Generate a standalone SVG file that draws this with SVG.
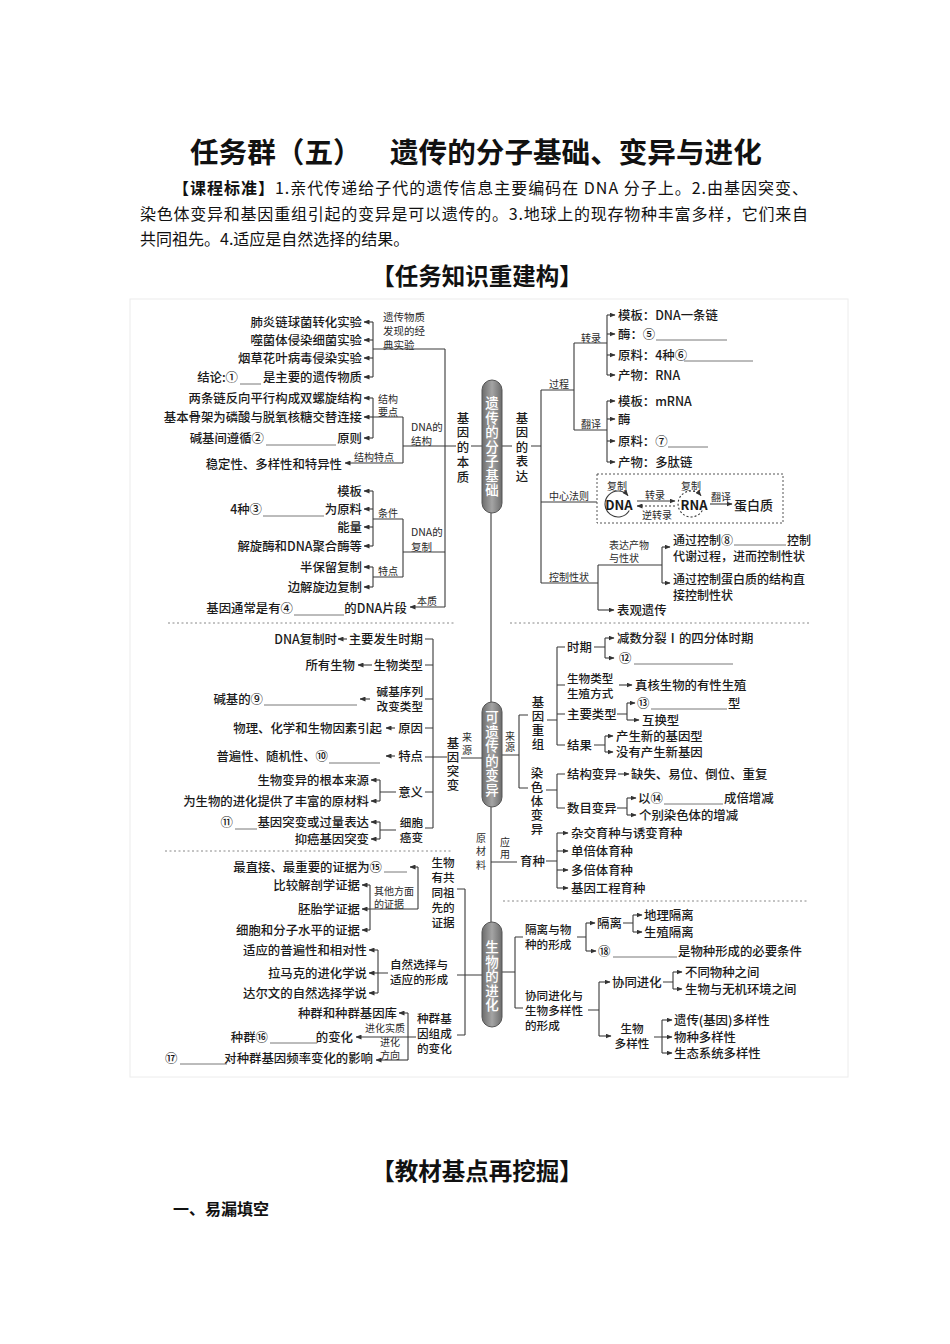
<svg xmlns="http://www.w3.org/2000/svg" width="950" height="1344" viewBox="0 0 950 1344">
<style>
text{font-family:"Noto Sans CJK SC","Noto Sans CJK JP",sans-serif;dominant-baseline:central}
.t{font-size:12.4px;fill:#1a1a1a;font-weight:500}
.k{font-size:11.6px}
.e{text-anchor:end}
.m{text-anchor:middle}
.s{font-size:10px;fill:#2a2a2a}
.vt{writing-mode:vertical-rl;text-orientation:upright}
.v{font-size:13.5px;fill:#fff;font-weight:500}
.ln{stroke:#3a3a3a;stroke-width:1.1;fill:none}
.ar{stroke:#3a3a3a;stroke-width:1.1;fill:none;marker-end:url(#ah)}
.u{stroke:#555;stroke-width:0.8;fill:none}
.dash{stroke:#888;stroke-width:1;stroke-dasharray:2 2.5;fill:none}
.pill{fill:url(#pg);stroke:#555;stroke-width:1}
.hd{font-size:16px;fill:#111}
</style>
<defs>
<marker id="ah" markerWidth="6" markerHeight="5" refX="5.5" refY="2.5" orient="auto" markerUnits="userSpaceOnUse"><path d="M0,0 L6,2.5 L0,5 z" fill="#333"/></marker>
<linearGradient id="pg" x1="0" y1="0" x2="1" y2="0"><stop offset="0" stop-color="#6c6c6c"/><stop offset="0.5" stop-color="#a4a4a4"/><stop offset="1" stop-color="#6c6c6c"/></linearGradient>
</defs>
<rect width="950" height="1344" fill="#fff"/>

<g id="header">
<text x="190" y="150" style="font-size:28.6px;font-weight:bold;fill:#111">任务群（五）</text>
<text x="390" y="150" style="font-size:28.6px;font-weight:bold;fill:#111">遗传的分子基础、变异与进化</text>
<text class="hd" x="173" y="187" textLength="635" lengthAdjust="spacing"><tspan font-weight="bold">【课程标准】</tspan>1.亲代传递给子代的遗传信息主要编码在 DNA 分子上。2.由基因突变、</text>
<text class="hd" x="140" y="213" textLength="668" lengthAdjust="spacing">染色体变异和基因重组引起的变异是可以遗传的。3.地球上的现存物种丰富多样，它们来自</text>
<text class="hd" x="140" y="238">共同祖先。4.适应是自然选择的结果。</text>
<text x="477" y="275" class="m" style="font-size:23.5px;font-weight:bold;fill:#111">【任务知识重建构】</text>
<text x="477" y="1170" class="m" style="font-size:23.5px;font-weight:bold;fill:#111">【教材基点再挖掘】</text>
<text x="173" y="1208" style="font-size:16px;font-weight:bold;fill:#111">一、易漏填空</text>
</g>

<rect x="130" y="299" width="718" height="778" fill="none" stroke="#ececec" stroke-width="1"/>

<g id="separators">
<path class="dash" d="M168 623 H455 M510 623 H810 M165 851 H453 M503 901 H808"/>
</g>

<g id="connectors">
<path class="ln" d="M491 513 V702 M491 807 V922"/>
<path class="ln" d="M445 349 V607 M373 349 H445 M445 446 H456 M471 446 H482 M373 322 V377 M403 446 H445 M403 417 V463 M373 417 H403 M373 398 V438 M403 552 H445 M403 519 V577 M373 519 H403 M373 491 V546 M373 577 H403 M373 567 V587"/>
<path class="ar" d="M373 322 H364"/><path class="ar" d="M373 340 H364"/><path class="ar" d="M373 358 H364"/><path class="ar" d="M373 377 H364"/>
<path class="ar" d="M373 398 H364"/><path class="ar" d="M373 417 H364"/><path class="ar" d="M373 438 H364"/><path class="ar" d="M403 463 H345"/>
<path class="ar" d="M373 491 H364"/><path class="ar" d="M373 509 H364"/><path class="ar" d="M373 527 H364"/><path class="ar" d="M373 546 H364"/>
<path class="ar" d="M373 567 H364"/><path class="ar" d="M373 587 H364"/><path class="ar" d="M445 607 H410"/>
<path class="ln" d="M502 446 H512 M531 446 H541 M541 390 V583 M541 390 H574 M574 343 V430 M574 343 H607 M607 315 V375 M574 430 H607 M607 401 V462 M541 502 H597 M541 583 H598 M598 565 V610 M598 565 H662 M662 547 V583"/>
<path class="ar" d="M607 315 H615"/><path class="ar" d="M607 334 H615"/><path class="ar" d="M607 355 H615"/><path class="ar" d="M607 375 H615"/>
<path class="ar" d="M607 401 H615"/><path class="ar" d="M607 419 H615"/><path class="ar" d="M607 441 H615"/><path class="ar" d="M607 462 H615"/>
<path class="ar" d="M662 547 H670"/><path class="ar" d="M662 583 H670"/><path class="ar" d="M598 610 H614"/>
<rect x="597" y="474" width="186" height="49" fill="none" stroke="#555" stroke-width="1" stroke-dasharray="2 2"/>
<path class="ar" d="M629.3 510.5 A13 13 0 1 1 628 495.6"/>
<path class="ar" stroke-dasharray="2 2" d="M702.3 510.5 A13 13 0 1 1 701 495.6"/>
<path class="ar" d="M637 501 H675"/>
<path class="ar" stroke-dasharray="2 2" d="M675 506 H637"/>
<path class="ar" d="M710 504 H732"/>
<path class="ln" d="M433 639 V828 M425 639 H433 M425 665 H433 M425 699 H433 M425 728 H433 M425 792 H433 M425 828 H433 M425 757 H447 M461 758 H482 M380 792 H396 M380 780 V801 M380 830 H396 M380 822 V839"/>
<path class="ar" d="M347 639 H338"/><path class="ar" d="M372 665 H358"/><path class="ar" d="M370 699 H360"/><path class="ar" d="M395 728 H386"/><path class="ar" d="M395 756 H386"/>
<path class="ar" d="M380 780 H371"/><path class="ar" d="M380 801 H371"/><path class="ar" d="M380 822 H371"/><path class="ar" d="M380 839 H371"/>
<path class="ln" d="M502 755 H519 M519 715 V788 M519 715 H528 M547 720 H557 M557 647 V745 M557 647 H565 M557 685 H565 M557 714 H565 M557 745 H565 M594 647 H605 M605 638 V658 M617 714 H627 M627 703 V720 M594 745 H605 M605 736 V752 M519 788 H528 M546 790 H557 M557 774 V808 M557 774 H565 M557 808 H565 M617 808 H627 M627 798 V815 M491 862 H517 M546 861 H557 M557 833 V888"/>
<path class="ar" d="M605 638 H614"/><path class="ar" d="M605 658 H614"/><path class="ar" d="M619 685 H632"/><path class="ar" d="M627 703 H635"/><path class="ar" d="M627 720 H639"/>
<path class="ar" d="M605 736 H613"/><path class="ar" d="M605 752 H613"/><path class="ar" d="M618 774 H629"/><path class="ar" d="M627 798 H636"/><path class="ar" d="M627 815 H636"/>
<path class="ar" d="M557 833 H568"/><path class="ar" d="M557 851 H568"/><path class="ar" d="M557 870 H568"/><path class="ar" d="M557 888 H568"/>
<path class="ln" d="M418 867 V909 M370 909 H418 M370 885 V930 M457 889 H465 M465 889 V1035 M457 975 H482 M457 1035 H465 M378 950 V993 M378 973 H388 M408 1013 V1060"/>
<path class="ar" d="M418 867 H410"/><path class="ar" d="M370 885 H362"/><path class="ar" d="M370 909 H362"/><path class="ar" d="M370 930 H362"/>
<path class="ar" d="M378 950 H369"/><path class="ar" d="M378 973 H369"/><path class="ar" d="M378 993 H369"/>
<path class="ar" d="M408 1013 H399"/><path class="ar" d="M416 1037 H356"/><path class="ar" d="M408 1060 H376"/>
<path class="ln" d="M502 972 H515 M515 937 V1008 M515 937 H523 M515 1008 H523 M577 937 H586 M586 923 V951 M623 923 H633 M633 915 V932 M588 1010 H599 M599 982 V1036 M663 982 H673 M673 972 V989 M654 1037 H662 M662 1020 V1053"/>
<path class="ar" d="M586 923 H595"/><path class="ar" d="M586 951 H596"/><path class="ar" d="M633 915 H642"/><path class="ar" d="M633 932 H642"/>
<path class="ar" d="M599 982 H610"/><path class="ar" d="M599 1036 H611"/><path class="ar" d="M673 972 H682"/><path class="ar" d="M673 989 H682"/>
<path class="ar" d="M662 1020 H672"/><path class="ar" d="M662 1037 H672"/><path class="ar" d="M662 1053 H672"/>
</g>

<g id="pill-molecular">
<rect class="pill" x="482" y="380" width="20" height="133" rx="10"/>
<text class="v vt" x="492" y="396.3" style="letter-spacing:1px">遗传的分子基础</text>
</g>
<g id="pill-variation">
<rect class="pill" x="482" y="702" width="20" height="105" rx="10"/>
<text class="v vt" x="492" y="710.3" style="letter-spacing:1px">可遗传的变异</text>
</g>
<g id="pill-evolution">
<rect class="pill" x="482" y="922" width="20" height="105" rx="10"/>
<text class="v vt" x="492" y="940.3" style="letter-spacing:1px">生物的进化</text>
</g>

<g id="n-gene-nature">
<text class="t vt" x="463" y="411.8" style="letter-spacing:2.3px">基因的本质</text>
</g>
<g id="n-classic-exp">
<text class="s" style="font-size:10.5px"><tspan x="383" y="316">遗传物质</tspan><tspan x="383" y="330">发现的经</tspan><tspan x="383" y="344">典实验</tspan></text>
<text class="t e" x="362" y="322">肺炎链球菌转化实验</text>
<text class="t e" x="362" y="340">噬菌体侵染细菌实验</text>
<text class="t e" x="362" y="358">烟草花叶病毒侵染实验</text>
<text class="t e" x="238" y="377">结论:①</text><path class="u" d="M240 384 H261"/><text class="t e" x="362" y="377">是主要的遗传物质</text>
</g>
<g id="n-dna-structure">
<text class="s" style="font-size:10.5px"><tspan x="411" y="426">DNA的</tspan><tspan x="411" y="440">结构</tspan></text>
<text class="s"><tspan x="378" y="398">结构</tspan><tspan x="378" y="411">要点</tspan></text>
<text class="s m" x="374" y="456">结构特点</text>
<text class="t e" x="362" y="398">两条链反向平行构成双螺旋结构</text>
<text class="t e" x="362" y="417">基本骨架为磷酸与脱氧核糖交替连接</text>
<text class="t e" x="264" y="438">碱基间遵循②</text><path class="u" d="M266 445 H336"/><text class="t e" x="362" y="438">原则</text>
<text class="t e" x="342" y="464">稳定性、多样性和特异性</text>
</g>
<g id="n-dna-replication">
<text class="s" style="font-size:10.5px"><tspan x="411" y="531">DNA的</tspan><tspan x="411" y="546">复制</tspan></text>
<text class="s m" x="388" y="512">条件</text>
<text class="s m" x="388" y="570">特点</text>
<text class="t e" x="362" y="491">模板</text>
<text class="t e" x="262" y="509">4种③</text><path class="u" d="M263 516 H324"/><text class="t e" x="362" y="509">为原料</text>
<text class="t e" x="362" y="527">能量</text>
<text class="t e" x="362" y="546">解旋酶和DNA聚合酶等</text>
<text class="t e" x="362" y="567">半保留复制</text>
<text class="t e" x="362" y="587">边解旋边复制</text>
</g>
<g id="n-essence">
<text class="s m" x="427" y="600">本质</text>
<text class="t e" x="293" y="608">基因通常是有④</text><path class="u" d="M294 615 H344"/><text class="t e" x="407" y="608">的DNA片段</text>
</g>

<g id="n-expression">
<text class="t vt" x="522" y="411.8" style="letter-spacing:2.1px">基因的表达</text>
<text class="s m" x="559" y="383">过程</text>
<text class="s m" x="591" y="337">转录</text>
<text class="s m" x="591" y="423">翻译</text>
<text class="s m" x="569" y="495">中心法则</text>
<text class="s m" x="569" y="576">控制性状</text>
</g>
<g id="n-transcription">
<text class="t" x="618" y="315">模板：DNA一条链</text>
<text class="t" x="618" y="334">酶：⑤</text><path class="u" d="M656 340 H727"/>
<text class="t" x="618" y="355">原料：4种⑥</text><path class="u" d="M684 361 H753"/>
<text class="t" x="618" y="375">产物：RNA</text>
</g>
<g id="n-translation">
<text class="t" x="618" y="401">模板：mRNA</text>
<text class="t" x="618" y="419">酶</text>
<text class="t" x="618" y="441">原料：⑦</text><path class="u" d="M668 447 H708"/>
<text class="t" x="618" y="462">产物：多肽链</text>
</g>
<g id="n-central-dogma">
<text class="s m" x="617" y="485">复制</text>
<text class="t m" x="619" y="504" style="font-size:13px;font-weight:bold">DNA</text>
<text class="s m" x="655" y="494">转录</text>
<text class="s m" x="657" y="514">逆转录</text>
<text class="s m" x="691" y="485">复制</text>
<text class="t m" x="694" y="504" style="font-size:13px;font-weight:bold">RNA</text>
<text class="s m" x="721" y="496">翻译</text>
<text class="t" x="734" y="504" style="font-size:13px">蛋白质</text>
</g>
<g id="n-trait">
<text class="s"><tspan x="609" y="544">表达产物</tspan><tspan x="609" y="557">与性状</tspan></text>
<text class="t" x="673" y="539" style="font-size:12px">通过控制⑧</text><path class="u" d="M734 545 H786"/><text class="t" x="787" y="539" style="font-size:12px">控制</text>
<text class="t" x="673" y="555" style="font-size:12px">代谢过程，进而控制性状</text>
<text class="t" style="font-size:12px"><tspan x="673" y="578">通过控制蛋白质的结构直</tspan><tspan x="673" y="594">接控制性状</tspan></text>
<text class="t" x="617" y="610">表观遗传</text>
</g>

<g id="n-mutation">
<text class="t vt" x="453" y="736.8" style="letter-spacing:1.6px">基因突变</text>
<text class="s vt" x="467" y="732" style="letter-spacing:3px">来源</text>
<text class="t e" x="423" y="639">主要发生时期</text><text class="t e" x="337" y="639">DNA复制时</text>
<text class="t e" x="423" y="665">生物类型</text><text class="t e" x="355" y="665">所有生物</text>
<text class="t k e"><tspan x="423" y="691">碱基序列</tspan><tspan x="423" y="706">改变类型</tspan></text>
<text class="t e" x="263" y="699">碱基的⑨</text><path class="u" d="M264 705 H357"/>
<text class="t e" x="423" y="728">原因</text><text class="t e" x="382" y="728">物理、化学和生物因素引起</text>
<text class="t e" x="423" y="756">特点</text><text class="t e" x="328" y="756">普遍性、随机性、⑩</text><path class="u" d="M329 763 H380"/>
<text class="t e" x="423" y="792">意义</text>
<text class="t e" x="369" y="780">生物变异的根本来源</text>
<text class="t e" x="369" y="801">为生物的进化提供了丰富的原材料</text>
<text class="t k e"><tspan x="423" y="822">细胞</tspan><tspan x="423" y="837">癌变</tspan></text>
<text class="t e" x="233" y="822">⑪</text><path class="u" d="M235 829 H257"/><text class="t e" x="369" y="822">基因突变或过量表达</text>
<text class="t e" x="369" y="839">抑癌基因突变</text>
</g>

<g id="n-recombination">
<text class="s vt" x="510" y="731" style="letter-spacing:1.5px">来源</text>
<text class="t vt" x="538" y="695.8" style="letter-spacing:1.6px">基因重组</text>
<text class="t" x="567" y="647">时期</text>
<text class="t" x="617" y="638">减数分裂Ⅰ的四分体时期</text>
<text class="t" x="619" y="658">⑫</text><path class="u" d="M634 664 H733"/>
<text class="t k"><tspan x="567" y="678">生物类型</tspan><tspan x="567" y="693">生殖方式</tspan></text>
<text class="t" x="635" y="685">真核生物的有性生殖</text>
<text class="t" x="567" y="714">主要类型</text>
<text class="t" x="637" y="703">⑬</text><path class="u" d="M651 709 H727"/><text class="t" x="728" y="703">型</text>
<text class="t" x="642" y="720">互换型</text>
<text class="t" x="567" y="745">结果</text>
<text class="t" x="616" y="736">产生新的基因型</text>
<text class="t" x="616" y="752">没有产生新基因</text>
</g>
<g id="n-chromosome">
<text class="t vt" x="537" y="766.8" style="letter-spacing:1.6px">染色体变异</text>
<text class="t" x="567" y="774">结构变异</text><text class="t" x="631" y="774">缺失、易位、倒位、重复</text>
<text class="t" x="567" y="808">数目变异</text>
<text class="t" x="638" y="798">以⑭</text><path class="u" d="M664 804 H723"/><text class="t" x="724" y="798">成倍增减</text>
<text class="t" x="639" y="815">个别染色体的增减</text>
</g>
<g id="n-breeding">
<text class="s vt" x="481" y="833" style="letter-spacing:3.5px">原材料</text>
<text class="s vt" x="505" y="837" style="letter-spacing:2.5px">应用</text>
<text class="t" x="520" y="861">育种</text>
<text class="t" x="571" y="833">杂交育种与诱变育种</text>
<text class="t" x="571" y="851">单倍体育种</text>
<text class="t" x="571" y="870">多倍体育种</text>
<text class="t" x="571" y="888">基因工程育种</text>
</g>

<g id="n-common-ancestor">
<text class="t k m"><tspan x="443" y="862">生物</tspan><tspan x="443" y="877">有共</tspan><tspan x="443" y="892">同祖</tspan><tspan x="443" y="907">先的</tspan><tspan x="443" y="922">证据</tspan></text>
<text class="t e" x="382" y="867">最直接、最重要的证据为⑮</text><path class="u" d="M384 872 H407"/>
<text class="s"><tspan x="374" y="890">其他方面</tspan><tspan x="374" y="903">的证据</tspan></text>
<text class="t e" x="360" y="885">比较解剖学证据</text>
<text class="t e" x="360" y="909">胚胎学证据</text>
<text class="t e" x="360" y="930">细胞和分子水平的证据</text>
</g>
<g id="n-selection">
<text class="t k"><tspan x="390" y="964">自然选择与</tspan><tspan x="390" y="979">适应的形成</tspan></text>
<text class="t e" x="367" y="950">适应的普遍性和相对性</text>
<text class="t e" x="367" y="973">拉马克的进化学说</text>
<text class="t e" x="367" y="993">达尔文的自然选择学说</text>
</g>
<g id="n-population">
<text class="t k"><tspan x="417" y="1018">种群基</tspan><tspan x="417" y="1033">因组成</tspan><tspan x="417" y="1048">的变化</tspan></text>
<text class="t e" x="397" y="1013">种群和种群基因库</text>
<text class="s m" x="385" y="1027">进化实质</text>
<text class="t e" x="268" y="1037">种群⑯</text><path class="u" d="M270 1043 H317"/><text class="t e" x="353" y="1037">的变化</text>
<text class="s m"><tspan x="390" y="1041">进化</tspan><tspan x="390" y="1054">方向</tspan></text>
<text class="t" x="165" y="1058">⑰</text><path class="u" d="M180 1064 H227"/><text class="t e" x="373" y="1058">对种群基因频率变化的影响</text>
</g>

<g id="n-speciation">
<text class="t k"><tspan x="525" y="929">隔离与物</tspan><tspan x="525" y="944">种的形成</tspan></text>
<text class="t" x="597" y="923">隔离</text>
<text class="t" x="644" y="915">地理隔离</text>
<text class="t" x="644" y="932">生殖隔离</text>
<text class="t" x="598" y="951">⑱</text><path class="u" d="M613 957 H677"/><text class="t" x="678" y="951">是物种形成的必要条件</text>
</g>
<g id="n-coevolution">
<text class="t k"><tspan x="525" y="995">协同进化与</tspan><tspan x="525" y="1010">生物多样性</tspan><tspan x="525" y="1025">的形成</tspan></text>
<text class="t" x="612" y="982">协同进化</text>
<text class="t" x="685" y="972">不同物种之间</text>
<text class="t" x="685" y="989">生物与无机环境之间</text>
<text class="t k m"><tspan x="632" y="1028">生物</tspan><tspan x="632" y="1043">多样性</tspan></text>
<text class="t" x="674" y="1020">遗传(基因)多样性</text>
<text class="t" x="674" y="1037">物种多样性</text>
<text class="t" x="674" y="1053">生态系统多样性</text>
</g>
</svg>
